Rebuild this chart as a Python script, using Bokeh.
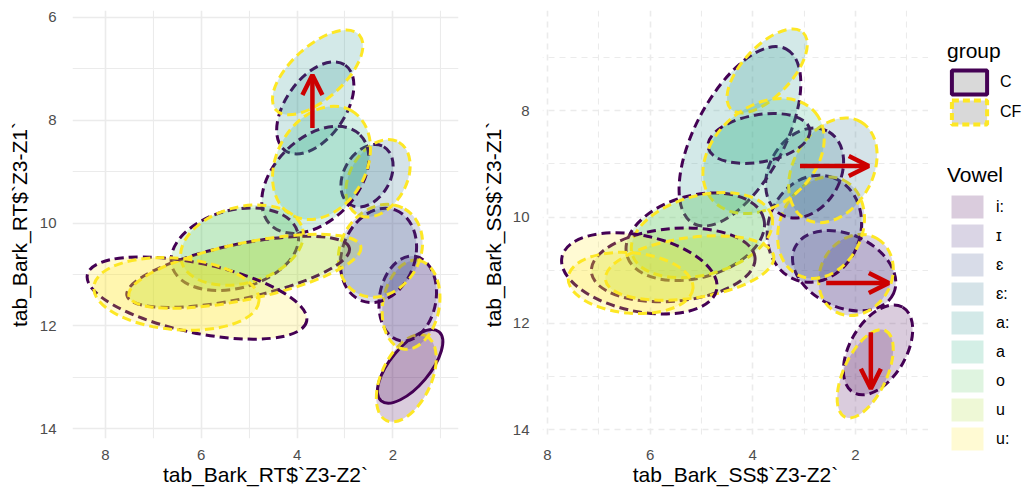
from bokeh.plotting import figure
from bokeh.models import (Range1d, FixedTicker, ColumnDataSource, Arrow, OpenHead,
                          Legend, LegendItem)
from bokeh.layouts import row, column
from bokeh.embed import file_html
from bokeh.resources import INLINE

# ---------------- data ----------------
vowels = ["i:", "ɪ", "ɛ", "ɛ:", "a:", "a", "o", "u", "u:"]
vowel_colors = ["#440154", "#472D7B", "#3B528B", "#2C728E", "#21908C",
                "#27AD81", "#5DC863", "#AADC32", "#FDE725"]
group_labels = ["C", "CF"]
group_line_colors = ["#440154", "#FDE725"]

# RT panel ellipses: centre (Z3-Z2, Z3-Z1), axis lengths (Bark), tilt (deg)
rt_C_x = [1.64, 1.69, 2.30, 2.54, 3.62, 3.62, 5.30, 5.23, 6.09]
rt_C_y = [12.79, 11.47, 10.63, 9.08, 7.76, 9.16, 10.51, 10.95, 11.46]
rt_C_w = [1.88, 1.79, 2.02, 1.40, 2.18, 2.65, 2.72, 4.75, 4.68]
rt_C_h = [0.77, 1.10, 1.42, 0.90, 1.16, 1.61, 1.52, 1.06, 1.35]
rt_C_a = [50, 80, 70, 60, 55, 45, 15, 12, -12]
rt_CF_x = [1.72, 1.62, 2.26, 2.31, 3.57, 3.49, 5.15, 5.09, 6.52]
rt_CF_y = [13.02, 11.59, 10.54, 9.13, 7.07, 8.83, 10.43, 10.94, 11.38]
rt_CF_w = [1.95, 1.88, 2.02, 1.74, 2.34, 2.51, 2.62, 4.95, 3.46]
rt_CF_h = [0.97, 1.10, 1.55, 1.10, 1.03, 1.74, 1.48, 1.10, 1.39]
rt_CF_a = [65, 80, 60, 60, 42, 60, 15, 12, -5]
rt_solid_C = ["i:"]

# SS panel ellipses
ss_C_x = [1.56, 2.22, 2.80, 2.99, 4.25, 3.88, 5.12, 5.55, 6.21]
ss_C_y = [12.50, 11.01, 10.22, 9.17, 8.48, 8.52, 10.37, 10.90, 11.06]
ss_C_w = [1.92, 2.12, 2.12, 1.86, 3.85, 2.01, 2.76, 3.20, 3.08]
ss_C_h = [1.06, 1.37, 1.74, 1.34, 1.68, 0.89, 1.55, 1.37, 1.43]
ss_C_a = [60, -25, 70, 60, 62, 10, 15, 5, -12]
ss_CF_x = [1.81, 1.99, 2.67, 2.44, 3.72, 3.79, 4.99, 5.23, 6.38]
ss_CF_y = [12.95, 11.09, 10.20, 9.12, 7.25, 8.85, 10.34, 10.96, 11.24]
ss_CF_w = [1.86, 1.64, 2.05, 2.18, 2.05, 2.63, 2.82, 3.31, 2.44]
ss_CF_h = [0.81, 1.34, 1.55, 1.49, 0.93, 1.86, 1.49, 1.14, 1.14]
ss_CF_a = [65, 60, 65, 60, 47, 40, 15, 8, -5]
ss_solid_C = []

# arrows (C -> CF shifts)
rt_arrow_x0 = [3.68]
rt_arrow_y0 = [8.15]
rt_arrow_x1 = [3.68]
rt_arrow_y1 = [7.12]
ss_arrow_x0 = [3.08, 2.57, 1.70]
ss_arrow_y0 = [9.04, 11.24, 12.17]
ss_arrow_x1 = [1.74, 1.35, 1.70]
ss_arrow_y1 = [9.04, 11.24, 13.23]

x_major = [2, 4, 6, 8]
x_minor = [1, 3, 5, 7]
y_major = [6, 8, 10, 12, 14]
y_minor = [7, 9, 11, 13]

FONT = "Liberation Sans"
PURPLE, YELLOW, RED = "#440154", "#FDE725", "#CC0000"
H = 488


def make_panel(title_x, title_y, xr, yr, width, left, right, grid_dash,
               ylab_standoff, ytitle_standoff,
               cx, cy, cw, ch, ca, fx, fy, fw, fh, fa, solid,
               ax0, ay0, ax1, ay1):
    p = figure(width=width, height=H, x_range=Range1d(*xr), y_range=Range1d(*yr),
               output_backend="svg", toolbar_location=None,
               min_border_left=left, min_border_right=right,
               min_border_top=10, min_border_bottom=47)
    p.outline_line_color = None
    p.background_fill_color = "white"
    p.xaxis.ticker = FixedTicker(ticks=x_major, minor_ticks=x_minor)
    p.yaxis.ticker = FixedTicker(ticks=y_major, minor_ticks=y_minor)
    for g in (p.xgrid, p.ygrid):
        g.grid_line_color = "#EBEBEB"
        g.grid_line_width = 1.6
        g.minor_grid_line_color = "#EBEBEB"
        g.minor_grid_line_width = 1.1
        if grid_dash:
            g.grid_line_dash = grid_dash
            g.minor_grid_line_dash = grid_dash
    for ax in (p.xaxis, p.yaxis):
        ax.axis_line_color = None
        ax.major_tick_line_color = None
        ax.minor_tick_line_color = None
        ax.major_label_text_font = FONT
        ax.major_label_text_font_size = "15px"
        ax.major_label_text_color = "#4D4D4D"
        ax.axis_label_text_font = FONT
        ax.axis_label_text_font_size = "21px"
        ax.axis_label_text_font_style = "normal"
        ax.axis_label_text_color = "black"
    p.xaxis.axis_label = title_x
    p.yaxis.axis_label = title_y
    p.xaxis.major_label_standoff = 5
    p.xaxis.axis_label_standoff = 0
    p.yaxis.major_label_standoff = ylab_standoff
    p.yaxis.axis_label_standoff = ytitle_standoff

    # ellipses per vowel: C then CF
    for i, v in enumerate(vowels):
        for gx, gy, gw, gh, ga, col, is_c in (
                (cx, cy, cw, ch, ca, PURPLE, True),
                (fx, fy, fw, fh, fa, YELLOW, False)):
            src = ColumnDataSource(dict(x=[gx[i]], y=[gy[i]], w=[gw[i]], h=[gh[i]],
                                        a=[ga[i]]))
            dash = "solid" if (is_c and v in solid) else "9 5"
            p.ellipse(x="x", y="y", width="w", height="h", angle="a", angle_units="deg",
                      source=src, fill_color=vowel_colors[i], fill_alpha=0.2,
                      line_color=col, line_width=3, line_dash=dash)

    asrc = ColumnDataSource(dict(x0=ax0, y0=ay0, x1=ax1, y1=ay1))
    p.add_layout(Arrow(x_start="x0", y_start="y0", x_end="x1", y_end="y1", source=asrc,
                       line_color=RED, line_width=4.5,
                       end=OpenHead(size=20, line_color=RED, line_width=4.5)))
    return p


p1 = make_panel("tab_Bark_RT$`Z3-Z2`", "tab_Bark_RT$`Z3-Z1`", (8.689, 0.630), (14.193, 5.865),
                478, 72, 20, None, 10, 6,
                rt_C_x, rt_C_y, rt_C_w, rt_C_h, rt_C_a,
                rt_CF_x, rt_CF_y, rt_CF_w, rt_CF_h, rt_CF_a, rt_solid_C,
                rt_arrow_x0, rt_arrow_y0, rt_arrow_x1, rt_arrow_y1)
p2 = make_panel("tab_Bark_SS$`Z3-Z2`", "tab_Bark_SS$`Z3-Z1`", (8.096, 0.577), (14.168, 6.112),
                450, 59, 0, "6 5", 7, 5,
                ss_C_x, ss_C_y, ss_C_w, ss_C_h, ss_C_a,
                ss_CF_x, ss_CF_y, ss_CF_w, ss_CF_h, ss_CF_a, ss_solid_C,
                ss_arrow_x0, ss_arrow_y0, ss_arrow_x1, ss_arrow_y1)


# ---------------- legends ----------------
# legend-only figures: the proxy glyphs sit outside the visible range (never shown)
def legend_fig(height, top):
    f = figure(width=101, height=height, x_axis_type=None, y_axis_type=None,
               x_range=Range1d(10, 11), y_range=Range1d(10, 11),
               toolbar_location=None, output_backend="svg",
               min_border_left=19, min_border_right=0, min_border_top=top,
               min_border_bottom=0)
    f.outline_line_color = None
    return f


def style_legend(leg, gw, gh, standoff):
    leg.title_text_font = FONT
    leg.title_text_font_size = "21px"
    leg.title_text_font_style = "normal"
    leg.title_text_color = "black"
    leg.title_standoff = standoff
    leg.label_text_font = FONT
    leg.label_text_font_size = "16px"
    leg.label_text_color = "black"
    leg.glyph_width = gw
    leg.glyph_height = gh
    leg.spacing = 0
    leg.padding = 0
    leg.margin = 0
    leg.label_standoff = 9
    leg.border_line_color = None
    leg.background_fill_alpha = 0
    leg.location = "top_left"


fa = legend_fig(150, 39)
fb = legend_fig(H - 150, 13)
proxy_a = ColumnDataSource(dict(x=[0], y=[0]))
proxy_b = ColumnDataSource(dict(x=[0], y=[0]))

g_items = []
for lab, col in zip(group_labels, group_line_colors):
    r = fa.rect(x="x", y="y", width=1, height=1, source=proxy_a, fill_color="#D9D9D9",
                line_color=col, line_width=4,
                line_dash="solid" if lab == "C" else "7 4")
    g_items.append(LegendItem(label=lab, renderers=[r]))

v_items = []
for lab, col in zip(vowels, vowel_colors):
    r = fb.rect(x="x", y="y", width=1, height=1, source=proxy_b, fill_color=col,
                fill_alpha=0.2, line_color=None)
    v_items.append(LegendItem(label=lab, renderers=[r]))

leg1 = Legend(items=g_items, title="group")
style_legend(leg1, 44, 30, 4)
leg2 = Legend(items=v_items, title="Vowel")
style_legend(leg2, 40, 29, 5)
fa.add_layout(leg1)
fb.add_layout(leg2)

layout = row(p1, p2, column(fa, fb))
open("out.html", "w").write(file_html(layout, INLINE))
